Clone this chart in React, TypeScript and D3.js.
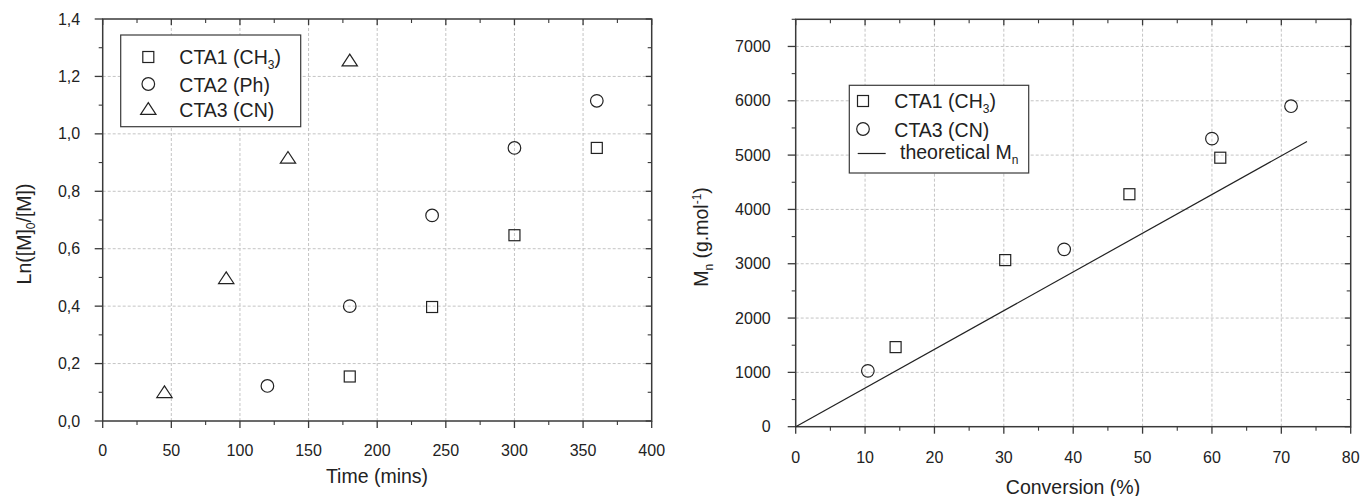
import React from "react";
import * as d3 from "d3";

// ---------- Left chart data ----------
const leftXTicks = [0, 50, 100, 150, 200, 250, 300, 350, 400];
const leftYTicks = [0, 0.2, 0.4, 0.6, 0.8, 1.0, 1.2, 1.4];
const cta1TimeX = [180, 240, 300, 360];
const cta1TimeY = [0.155, 0.397, 0.647, 0.951];
const cta2TimeX = [120, 180, 240, 300, 360];
const cta2TimeY = [0.122, 0.4, 0.716, 0.951, 1.115];
const cta3TimeX = [45, 90, 135, 180];
const cta3TimeY = [0.097, 0.494, 0.913, 1.252];

// ---------- Right chart data ----------
const rightXTicks = [0, 10, 20, 30, 40, 50, 60, 70, 80];
const rightYTicks = [0, 1000, 2000, 3000, 4000, 5000, 6000, 7000];
const cta1ConvX = [14.4, 30.2, 48.1, 61.2];
const cta1ConvY = [1465, 3067, 4280, 4952];
const cta3ConvX = [10.4, 38.7, 60.0, 71.4];
const cta3ConvY = [1028, 3265, 5303, 5900];
const theoX = [0, 73.7];
const theoY = [0, 5250];

const FONT = "'Liberation Sans', Arial, sans-serif";
const AXIS = "#3a3a3a";
const GRID = "#c4c4c4";
const MARK = "#222";
const TICK_FS = 16;
const TITLE_FS = 19.5;
const LEG_FS = 19.5;
const SUB_FS = 12;

function Square({ x, y }: { x: number; y: number }) {
  return <rect x={x - 5.5} y={y - 5.5} width={11} height={11} fill="none" stroke={MARK} strokeWidth={1.2} />;
}
function Circle({ x, y }: { x: number; y: number }) {
  return <circle cx={x} cy={y} r={6.3} fill="none" stroke={MARK} strokeWidth={1.2} />;
}
function Tri({ x, y }: { x: number; y: number }) {
  const s = 7.3;
  return (
    <path
      d={`M${x},${y - s} L${x + s * 1.05},${y + s * 0.6} L${x - s * 1.05},${y + s * 0.6} Z`}
      fill="none"
      stroke={MARK}
      strokeWidth={1.2}
    />
  );
}

type Frame = {
  x: d3.ScaleLinear<number, number>;
  y: d3.ScaleLinear<number, number>;
  xTicks: number[];
  yTicks: number[];
  xMinor: number[];
  yMinor: number[];
  fmtY: (v: number) => string;
  xLabelY: number;
  yLabelGap: number;
};

function Axes({ x, y, xTicks, yTicks, xMinor, yMinor, fmtY, xLabelY, yLabelGap }: Frame) {
  const [x0, x1] = x.range();
  const [y0, y1] = y.range();
  return (
    <g>
      {xTicks.slice(1, -1).map((t) => (
        <line key={"gx" + t} x1={x(t)} x2={x(t)} y1={y0} y2={y1} stroke={GRID} strokeDasharray="3,2" strokeWidth={1} />
      ))}
      {yTicks.filter((t) => y(t) < y0 - 1 && y(t) > y1 + 1).map((t) => (
        <line key={"gy" + t} x1={x0} x2={x1} y1={y(t)} y2={y(t)} stroke={GRID} strokeDasharray="3,2" strokeWidth={1} />
      ))}
      <rect x={x0} y={y1} width={x1 - x0} height={y0 - y1} fill="none" stroke={AXIS} strokeWidth={1.5} />
      {xTicks.map((t) => (
        <line key={"bx" + t} x1={x(t)} x2={x(t)} y1={y0} y2={y0 + 7} stroke={AXIS} strokeWidth={1.3} />
      ))}
      {xMinor.map((t) => (
        <line key={"bm" + t} x1={x(t)} x2={x(t)} y1={y0} y2={y0 + 4} stroke={AXIS} strokeWidth={1.1} />
      ))}
      {xTicks.map((t) => (
        <line key={"tx" + t} x1={x(t)} x2={x(t)} y1={y1} y2={y1 + 6} stroke={AXIS} strokeWidth={1.3} />
      ))}
      {xMinor.map((t) => (
        <line key={"tm" + t} x1={x(t)} x2={x(t)} y1={y1} y2={y1 + 4} stroke={AXIS} strokeWidth={1.1} />
      ))}
      {yTicks.map((t) => (
        <line key={"ly" + t} x1={x0 - 8} x2={x0} y1={y(t)} y2={y(t)} stroke={AXIS} strokeWidth={1.3} />
      ))}
      {yMinor.map((t) => (
        <line key={"lm" + t} x1={x0 - 4} x2={x0} y1={y(t)} y2={y(t)} stroke={AXIS} strokeWidth={1.1} />
      ))}
      {yTicks.map((t) => (
        <line key={"ry" + t} x1={x1 - 6} x2={x1} y1={y(t)} y2={y(t)} stroke={AXIS} strokeWidth={1.3} />
      ))}
      {yMinor.map((t) => (
        <line key={"rm" + t} x1={x1 - 4} x2={x1} y1={y(t)} y2={y(t)} stroke={AXIS} strokeWidth={1.1} />
      ))}
      {xTicks.map((t) => (
        <text key={"xl" + t} x={x(t)} y={xLabelY} textAnchor="middle" fontSize={TICK_FS} fill="#222" fontFamily={FONT}>
          {t}
        </text>
      ))}
      {yTicks.map((t) => (
        <text key={"yl" + t} x={x0 - yLabelGap} y={y(t) + 5.5} textAnchor="end" fontSize={TICK_FS} fill="#222" fontFamily={FONT}>
          {fmtY(t)}
        </text>
      ))}
    </g>
  );
}

export default function App() {
  const lx = d3.scaleLinear().domain([0, 400]).range([102.7, 651.7]);
  const ly = d3.scaleLinear().domain([0, 1.4]).range([421, 19]);
  const rx = d3.scaleLinear().domain([0, 80]).range([795.7, 1350.7]);
  const ry = d3.scaleLinear().domain([0, 7500]).range([426.7, 19.3]);

  const leftMinorX = d3.range(25, 400, 50);
  const leftMinorY = d3.range(0.1, 1.4, 0.2);
  const rightMinorX = d3.range(5, 80, 10);
  const rightMinorY = d3.range(500, 7600, 1000);

  const line = d3
    .line<number>()
    .x((_, i) => rx(theoX[i]))
    .y((_, i) => ry(theoY[i]));

  const fmtComma = (v: number) => d3.format(".1f")(v).replace(".", ",");

  return (
    <svg width={1360} height={496} style={{ position: "absolute", left: 0, top: 0, background: "#fff" }}>
      <rect width={1360} height={496} fill="#fff" />
      {/* LEFT CHART */}
      <Axes x={lx} y={ly} xTicks={leftXTicks} yTicks={leftYTicks} xMinor={leftMinorX} yMinor={leftMinorY} fmtY={fmtComma} xLabelY={455.5} yLabelGap={22.5} />
      {cta1TimeX.map((v, i) => (
        <Square key={"a" + i} x={lx(v)} y={ly(cta1TimeY[i])} />
      ))}
      {cta2TimeX.map((v, i) => (
        <Circle key={"b" + i} x={lx(v)} y={ly(cta2TimeY[i])} />
      ))}
      {cta3TimeX.map((v, i) => (
        <Tri key={"c" + i} x={lx(v)} y={ly(cta3TimeY[i])} />
      ))}
      <text x={377} y={483} textAnchor="middle" fontSize={TITLE_FS} fill="#222" fontFamily={FONT}>
        Time (mins)
      </text>
      <text transform="translate(31,234) rotate(-90)" textAnchor="middle" fontSize={TITLE_FS} fill="#222" fontFamily={FONT}>
        Ln([M]<tspan fontSize={SUB_FS} dy={4}>0</tspan>
        <tspan dy={-4}>/[M])</tspan>
      </text>
      {/* left legend */}
      <rect x={120.7} y={35} width={180} height={91.7} fill="#fff" stroke={AXIS} strokeWidth={1.2} />
      <Square x={148.3} y={57} />
      <Circle x={148.3} y={84} />
      <Tri x={148.3} y={110} />
      <text x={179.3} y={64.3} fontSize={LEG_FS} fill="#222" fontFamily={FONT}>
        CTA1 (CH<tspan fontSize={SUB_FS} dy={5}>3</tspan>
        <tspan dy={-5}>)</tspan>
      </text>
      <text x={179.3} y={91.5} fontSize={LEG_FS} fill="#222" fontFamily={FONT}>
        CTA2 (Ph)
      </text>
      <text x={179.3} y={117.3} fontSize={LEG_FS} fill="#222" fontFamily={FONT}>
        CTA3 (CN)
      </text>

      {/* RIGHT CHART */}
      <Axes x={rx} y={ry} xTicks={rightXTicks} yTicks={rightYTicks} xMinor={rightMinorX} yMinor={rightMinorY} fmtY={(v) => String(v)} xLabelY={463} yLabelGap={25} />
      <path d={line(theoX) || ""} fill="none" stroke="#222" strokeWidth={1.2} />
      {cta1ConvX.map((v, i) => (
        <Square key={"d" + i} x={rx(v)} y={ry(cta1ConvY[i])} />
      ))}
      {cta3ConvX.map((v, i) => (
        <Circle key={"e" + i} x={rx(v)} y={ry(cta3ConvY[i])} />
      ))}
      <text x={1073} y={493.5} textAnchor="middle" fontSize={TITLE_FS} fill="#222" fontFamily={FONT}>
        Conversion (%)
      </text>
      <text transform="translate(708,237) rotate(-90)" textAnchor="middle" fontSize={TITLE_FS} fill="#222" fontFamily={FONT}>
        M<tspan fontSize={SUB_FS} dy={5}>n</tspan>
        <tspan dy={-5}> (g.mol</tspan>
        <tspan fontSize={SUB_FS} dy={-7}>-1</tspan>
        <tspan dy={7}>)</tspan>
      </text>
      {/* right legend */}
      <rect x={849.3} y={85.3} width={179.4} height={87.7} fill="#fff" stroke={AXIS} strokeWidth={1.2} />
      <Square x={863} y={101} />
      <Circle x={863} y={129} />
      <line x1={857.7} x2={885.7} y1={153.5} y2={153.5} stroke="#222" strokeWidth={1.2} />
      <text x={894.3} y={108.3} fontSize={LEG_FS} fill="#222" fontFamily={FONT}>
        CTA1 (CH<tspan fontSize={SUB_FS} dy={5}>3</tspan>
        <tspan dy={-5}>)</tspan>
      </text>
      <text x={894.3} y={136.5} fontSize={LEG_FS} fill="#222" fontFamily={FONT}>
        CTA3 (CN)
      </text>
      <text x={900} y={159.3} fontSize={LEG_FS} fill="#222" fontFamily={FONT}>
        theoretical M<tspan fontSize={SUB_FS} dy={5}>n</tspan>
      </text>
    </svg>
  );
}
